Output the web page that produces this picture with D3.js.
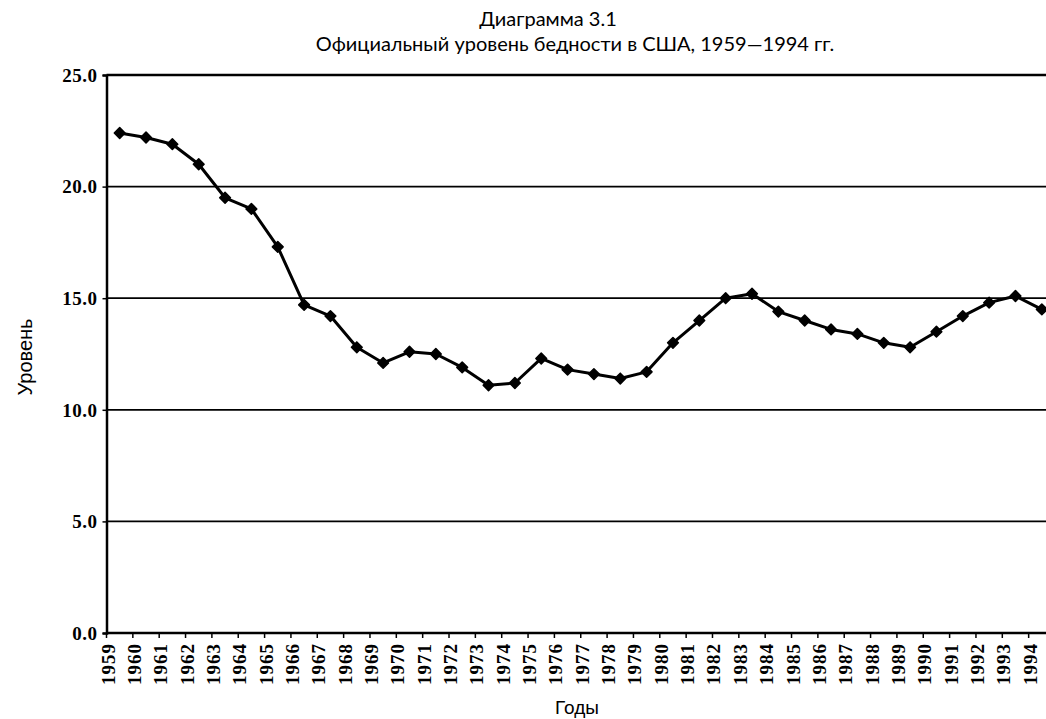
<!DOCTYPE html>
<html>
<head>
<meta charset="utf-8">
<script src="https://cdn.jsdelivr.net/npm/d3@7"></script>
<style>
  body { margin: 0; background: #fff; }
  svg { display: block; }
</style>
</head>
<body>
<svg id="chart" width="1046" height="719"></svg>
<script>
// official poverty rate, USA
let years = d3.range(1959, 1995).map(String);
let rates = [22.4, 22.2, 21.9, 21.0, 19.5, 19.0, 17.3, 14.7, 14.2, 12.8,
             12.1, 12.6, 12.5, 11.9, 11.1, 11.2, 12.3, 11.8, 11.6, 11.4,
             11.7, 13.0, 14.0, 15.0, 15.2, 14.4, 14.0, 13.6, 13.4, 13.0,
             12.8, 13.5, 14.2, 14.8, 15.1, 14.5];
let yTicks = [0, 5, 10, 15, 20, 25];
let titleLines = ["Диаграмма 3.1", "Официальный уровень бедности в США, 1959—1994 гг."];

let svg = d3.select("#chart");
let plotLeft = 106.5, plotTop = 75, plotBottom = 633;
let bandRight = 1055;
let darkTextColor = "#000";

let x = d3.scaleBand()
  .domain(years)
  .range([plotLeft, bandRight]);

let y = d3.scaleLinear()
  .domain([0, 25])
  .range([plotBottom, plotTop]);

// grid lines
svg.append("g")
  .selectAll("line")
  .data(yTicks.slice(1, -1))
  .enter().append("line")
    .attr("x1", plotLeft)
    .attr("x2", 1046)
    .attr("y1", d => y(d))
    .attr("y2", d => y(d))
    .style("stroke", darkTextColor)
    .style("stroke-width", 1.8);

// top border
svg.append("line")
  .attr("x1", plotLeft).attr("x2", 1046)
  .attr("y1", y(25)).attr("y2", y(25))
  .style("stroke", darkTextColor)
  .style("stroke-width", 2.5);

// y axis
let yAxis = d3.axisLeft(y)
  .tickValues(yTicks)
  .tickSize(4)
  .tickFormat(d3.format(".1f"));

let yg = svg.append("g")
  .attr("transform", "translate(" + plotLeft + ",0)")
  .call(yAxis);
yg.select(".domain").style("stroke-width", 2.5);
yg.selectAll(".tick line").style("stroke-width", 1.5);
yg.selectAll("text")
  .attr("x", -9)
  .attr("dy", "0.33em")
  .style("font-family", "Liberation Serif")
  .style("font-weight", "bold")
  .style("font-size", "19px")
  .style("letter-spacing", "0.5px")
  .style("fill", darkTextColor);

// x axis: labels sit at the left edge of each band
let xg = svg.append("g")
  .attr("transform", "translate(0," + plotBottom + ")");

xg.append("line")
  .attr("x1", plotLeft).attr("x2", 1046)
  .attr("y1", 0).attr("y2", 0)
  .style("stroke", darkTextColor)
  .style("stroke-width", 2.5);

xg.selectAll(".xtick")
  .data(years)
  .enter().append("line")
    .attr("class", "xtick")
    .attr("x1", d => x(d))
    .attr("x2", d => x(d))
    .attr("y1", 0)
    .attr("y2", 5)
    .style("stroke", darkTextColor)
    .style("stroke-width", 1.5);

xg.selectAll(".xlabel")
  .data(years)
  .enter().append("text")
    .attr("class", "xlabel")
    .attr("transform", d => "translate(" + (x(d) + 8) + ",10) rotate(-90)")
    .attr("text-anchor", "end")
    .text(d => d)
    .style("font-family", "Liberation Serif")
    .style("font-weight", "bold")
    .style("font-size", "19px")
    .style("letter-spacing", "1px")
    .style("fill", darkTextColor);

// series line
let line = d3.line()
  .x((d, i) => x(years[i]) + x.bandwidth() / 2)
  .y(d => y(d));

svg.append("path")
  .datum(rates)
  .attr("d", line)
  .style("fill", "none")
  .style("stroke", darkTextColor)
  .style("stroke-width", 3)
  .style("stroke-linejoin", "round");

svg.append("g")
  .selectAll("path")
  .data(rates)
  .enter().append("path")
    .attr("d", d3.symbol().type(d3.symbolSquare).size(58))
    .attr("transform", (d, i) => "translate(" + (x(years[i]) + x.bandwidth() / 2) + "," + y(d) + ") rotate(45)")
    .style("fill", darkTextColor)
    .style("stroke", darkTextColor)
    .style("stroke-width", 1.5)
    .style("stroke-linejoin", "round");

// titles
svg.append("text")
  .attr("class", "title")
  .attr("x", 548)
  .attr("y", 26)
  .attr("text-anchor", "middle")
  .text(titleLines[0])
  .style("font-family", "Lato")
  .style("font-size", "20px")
  .style("fill", darkTextColor);

svg.append("text")
  .attr("class", "title")
  .attr("x", 575)
  .attr("y", 51)
  .attr("text-anchor", "middle")
  .text(titleLines[1])
  .style("font-family", "Lato")
  .style("font-size", "20px")
  .style("fill", darkTextColor);

svg.append("text")
  .attr("transform", "translate(32," + 357 + ") rotate(-90)")
  .attr("text-anchor", "middle")
  .text("Уровень")
  .style("font-family", "Liberation Sans")
  .style("font-size", "20px")
  .style("fill", darkTextColor);

svg.append("text")
  .attr("x", 577)
  .attr("y", 714)
  .attr("text-anchor", "middle")
  .text("Годы")
  .style("font-family", "Liberation Sans")
  .style("font-size", "19px")
  .style("fill", darkTextColor);
</script>
</body>
</html>
